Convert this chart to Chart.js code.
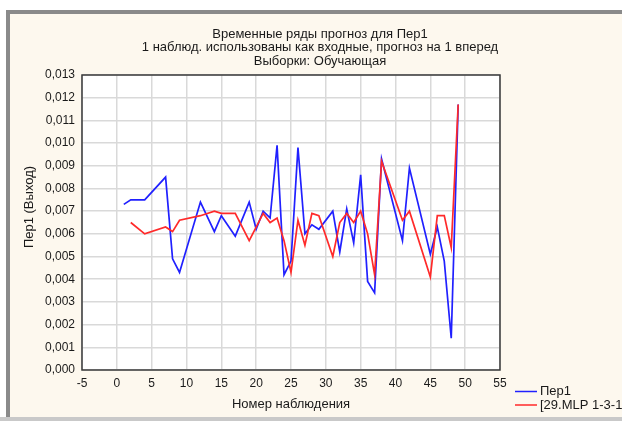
<!DOCTYPE html>
<html>
<head>
<meta charset="utf-8">
<script src="https://cdn.jsdelivr.net/npm/chart.js@4.4.1/dist/chart.umd.min.js"></script>
<style>
  html, body { margin: 0; padding: 0; background: #fff; }
  #wrap { position: relative; width: 622px; height: 421px; overflow: hidden; }
  #panel {
    position: absolute; left: 6px; top: 10px; width: 640px; height: 407px;
    background: #fdf8ee; border-top: 4px solid #8a8a8a; border-left: 4px solid #8a8a8a;
    box-sizing: border-box;
  }
  #strip { position: absolute; left: 0; top: 417px; width: 622px; height: 4px; background: #c9c9c9; }
  canvas { position: absolute; left: 0; top: 0; }
</style>
</head>
<body>
<div id="wrap">
  <div id="panel"></div>
  <div id="strip"></div>
  <canvas id="graphForecast" width="622" height="421"></canvas>
</div>
<script>
// номера наблюдений обучающей выборки
const observations = [1, 2, 4, 7, 8, 9, 12, 14, 15, 17, 19, 20, 21, 22, 23, 24, 25, 26, 27, 28, 29,
  31, 32, 33, 34, 35, 36, 37, 38, 41, 42, 45, 46, 47, 48, 49];
// Пер1 (фактические значения)
const per1 = [0.0073, 0.0075, 0.0075, 0.0085, 0.0049, 0.0043, 0.0074, 0.0061, 0.0068, 0.0059, 0.0074,
  0.0062, 0.0070, 0.0067, 0.0099, 0.0042, 0.0048, 0.0098, 0.0060, 0.0064, 0.0062,
  0.0070, 0.0052, 0.0071, 0.0056, 0.0086, 0.0039, 0.0034, 0.0093, 0.0057, 0.0089, 0.0051, 0.0063, 0.0048, 0.0014, 0.0117];
// прогноз сети 29.MLP 1-3-1
const mlp = [null, 0.0065, 0.0060, 0.0063, 0.0061, 0.0066, 0.0068, 0.0070, 0.0069, 0.0069, 0.0057,
  0.0063, 0.0069, 0.0065, 0.0067, 0.0057, 0.0043, 0.0066, 0.0055, 0.0069, 0.0068,
  0.0050, 0.0065, 0.0069, 0.0065, 0.0070, 0.0060, 0.0042, 0.0092, 0.0066, 0.0070, 0.0041, 0.0068, 0.0068, 0.0054, 0.0117];

const titleLines = ['Временные ряды прогноз для Пер1', '1 наблюд. использованы как входные, прогноз на 1 вперед', 'Выборки: Обучающая'];
const legendLabels = ['Пер1', '[29.MLP 1-3-1]'];
const seriesColors = ['#2020ff', '#ff2a2a'];
const yTitle = 'Пер1 (Выход)';

const FONT = '"Liberation Sans", Arial, sans-serif';

const toPoints = (ys) => observations.map((x, i) => ({ x: x, y: ys[i] }));

const frame = {
  id: 'frame',
  beforeDraw(chart) {
    const { ctx, chartArea: a } = chart;
    ctx.save();
    ctx.fillStyle = '#fff';
    ctx.fillRect(a.left, a.top, a.right - a.left, a.bottom - a.top);
    ctx.restore();
  },
  afterDraw(chart) {
    const { ctx, chartArea: a } = chart;
    ctx.save();
    ctx.strokeStyle = '#3a3a3a';
    ctx.lineWidth = 1.5;
    ctx.strokeRect(a.left, a.top, a.right - a.left, a.bottom - a.top);

    // заголовок
    ctx.fillStyle = '#1a1a1a';
    ctx.font = '13px ' + FONT;
    ctx.textAlign = 'center';
    ctx.textBaseline = 'middle';
    titleLines.forEach((t, i) => ctx.fillText(t, 320, 34 + i * 13.5));

    // подпись оси Y
    ctx.save();
    ctx.translate(29, 207);
    ctx.rotate(-Math.PI / 2);
    ctx.fillText(yTitle, 0, 0);
    ctx.restore();

    // легенда
    ctx.textAlign = 'left';
    ctx.lineWidth = 1.5;
    legendLabels.forEach((t, i) => {
      const y = 391.5 + i * 13.5;
      ctx.strokeStyle = seriesColors[i];
      ctx.beginPath();
      ctx.moveTo(515, y);
      ctx.lineTo(537, y);
      ctx.stroke();
      ctx.fillText(t, 540, y);
    });
    ctx.restore();
  }
};

const ctx = document.getElementById('graphForecast');
const chart = new Chart(ctx, {
  type: 'line',
  data: {
    datasets: [
      {
        label: legendLabels[0],
        data: toPoints(per1),
        borderColor: seriesColors[0],
        borderWidth: 1.7,
        pointRadius: 0,
        fill: false,
        tension: 0,
        order: 1
      },
      {
        label: legendLabels[1],
        data: toPoints(mlp),
        borderColor: seriesColors[1],
        borderWidth: 1.7,
        pointRadius: 0,
        fill: false,
        tension: 0,
        order: 0
      }
    ]
  },
  options: {
    responsive: false,
    animation: false,
    layout: { padding: { left: 10, right: 122, top: 75, bottom: 6 } },
    plugins: {
      legend: { display: false },
      title: { display: false },
      tooltip: { enabled: false }
    },
    scales: {
      x: {
        type: 'linear',
        min: -5,
        max: 55,
        border: { display: false },
        grid: { color: '#d9d9d9', lineWidth: 1.5, drawTicks: false },
        ticks: {
          stepSize: 5,
          maxTicksLimit: 20,
          padding: 6,
          color: '#1a1a1a',
          font: { family: FONT, size: 12 },
          maxRotation: 0
        },
        title: {
          display: true,
          text: 'Номер наблюдения',
          color: '#1a1a1a',
          font: { family: FONT, size: 13 },
          padding: { top: 0, bottom: 3 }
        },
        afterFit(scale) { scale.height = 45; }
      },
      y: {
        min: 0,
        max: 0.013,
        border: { display: false },
        grid: { color: '#d9d9d9', lineWidth: 1.5, drawTicks: false },
        ticks: {
          stepSize: 0.001,
          maxTicksLimit: 20,
          padding: 7,
          color: '#1a1a1a',
          font: { family: FONT, size: 12 },
          callback: (v) => v.toFixed(3).replace('.', ',')
        },
        afterFit(scale) { scale.width = 72; }
      }
    }
  },
  plugins: [frame]
});
</script>
</body>
</html>
